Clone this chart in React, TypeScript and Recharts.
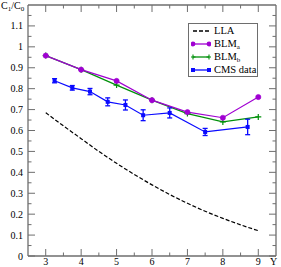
import React from "react";
import {
  ComposedChart,
  ErrorBar,
  Line,
  XAxis,
  YAxis,
} from "recharts";

// values
const llaY = [3, 3.5, 4, 4.5, 5, 5.5, 6, 6.5, 7, 7.5, 8, 8.5, 9];
const llaRatio = [0.685, 0.622, 0.561, 0.5, 0.443, 0.39, 0.34, 0.294, 0.252, 0.214, 0.18, 0.149, 0.121];

const blmY = [3, 4, 5, 6, 7, 8, 9];
const blmARatio = [0.958, 0.891, 0.837, 0.745, 0.688, 0.661, 0.76];
const blmBRatio = [0.958, 0.891, 0.817, 0.745, 0.681, 0.641, 0.665];

const cmsY = [3.25, 3.75, 4.25, 4.75, 5.25, 5.75, 6.5, 7.5, 8.7];
const cmsRatio = [0.838, 0.804, 0.786, 0.737, 0.722, 0.673, 0.684, 0.593, 0.617];
const cmsErr = [0.01, 0.011, 0.015, 0.019, 0.024, 0.026, 0.024, 0.017, 0.037];

const xMajor = [3, 4, 5, 6, 7, 8, 9];
const xMinor = [3.5, 4.5, 5.5, 6.5, 7.5, 8.5];
const yMajor = [0, 0.1, 0.2, 0.3, 0.4, 0.5, 0.6, 0.7, 0.8, 0.9, 1, 1.1];
const yMinor = [0.05, 0.15, 0.25, 0.35, 0.45, 0.55, 0.65, 0.75, 0.85, 0.95, 1.05, 1.15];

const xTicks = [...xMajor, ...xMinor].sort((a, b) => a - b);
const yTicks = [...yMajor, ...yMinor].sort((a, b) => a - b);

const llaData = llaY.map((y, i) => ({ y, v: llaRatio[i] }));
const blmAData = blmY.map((y, i) => ({ y, v: blmARatio[i] }));
const blmBData = blmY.map((y, i) => ({ y, v: blmBRatio[i] }));
const cmsData = cmsY.map((y, i) => ({ y, v: cmsRatio[i], err: cmsErr[i] }));

const FONT = "'Liberation Serif', 'DejaVu Serif', serif";
const FRAME = "#6e6e6e";
const PURPLE = "#a000d2";
const GREEN = "#00900a";
const BLUE = "#0a0aff";
const MAJOR = 7;
const MINOR = 3.5;
const DASH = "4 2";

const isMajor = (v: number, list: number[]) => list.some((m) => Math.abs(m - v) < 1e-9);

function BottomTick({ x, y, payload }: any) {
  const major = isMajor(payload.value, xMajor);
  return (
    <g>
      <line x1={x} x2={x} y1={y} y2={y - (major ? MAJOR : MINOR)} stroke={FRAME} strokeWidth={1} />
      {major && (
        <text x={x} y={y + 9} textAnchor="middle" fontFamily={FONT} fontSize={10} fill="#000">
          {payload.value}
        </text>
      )}
    </g>
  );
}

function TopTick({ x, y, payload }: any) {
  const major = isMajor(payload.value, xMajor);
  return <line x1={x} x2={x} y1={y} y2={y + (major ? MAJOR : MINOR)} stroke={FRAME} strokeWidth={1} />;
}

function LeftTick({ x, y, payload }: any) {
  const major = isMajor(payload.value, yMajor);
  return (
    <g>
      <line x1={x} x2={x + (major ? MAJOR : MINOR)} y1={y} y2={y} stroke={FRAME} strokeWidth={1} />
      {major && (
        <text x={x - 5} y={y + 3.5} textAnchor="end" fontFamily={FONT} fontSize={10} fill="#000">
          {String(payload.value)}
        </text>
      )}
    </g>
  );
}

function RightTick({ x, y, payload }: any) {
  const major = isMajor(payload.value, yMajor);
  return <line x1={x} x2={x - (major ? MAJOR : MINOR)} y1={y} y2={y} stroke={FRAME} strokeWidth={1} />;
}

function CircleDot({ cx, cy }: any) {
  return <circle cx={cx} cy={cy} r={2.6} fill={PURPLE} stroke={PURPLE} strokeWidth={0.6} />;
}

function PlusDot({ cx, cy }: any) {
  return (
    <path d={`M${cx - 3},${cy}H${cx + 3}M${cx},${cy - 3}V${cy + 3}`} stroke={GREEN} strokeWidth={1.2} fill="none" />
  );
}

function SquareDot({ cx, cy }: any) {
  return <rect x={cx - 2} y={cy - 2} width={4} height={4} fill={BLUE} />;
}

function LegendIcon({ kind }: { kind: string }) {
  const color = kind === "lla" ? "#000" : kind === "a" ? PURPLE : kind === "b" ? GREEN : BLUE;
  const ends = [2, 18];
  return (
    <svg width={20} height={10} style={{ display: "block" }}>
      <line
        x1={2}
        x2={18}
        y1={5}
        y2={5}
        stroke={color}
        strokeWidth={1.3}
        strokeDasharray={kind === "lla" ? DASH : undefined}
      />
      {kind === "a" && ends.map((e) => <circle key={e} cx={e} cy={5} r={2.4} fill={PURPLE} />)}
      {kind === "b" &&
        ends.map((e) => (
          <path key={e} d={`M${e - 2.5},5H${e + 2.5}M${e},2.5V7.5`} stroke={GREEN} strokeWidth={1.1} />
        ))}
      {kind === "cms" && ends.map((e) => <rect key={e} x={e - 2} y={3} width={4} height={4} fill={BLUE} />)}
    </svg>
  );
}

const subStyle: React.CSSProperties = { fontSize: 7, verticalAlign: "-2px", lineHeight: 0 };

function LegendBox() {
  const rows: { kind: string; label: React.ReactNode }[] = [
    { kind: "lla", label: "LLA" },
    { kind: "a", label: <>BLM<sub style={subStyle}>a</sub></> },
    { kind: "b", label: <>BLM<sub style={subStyle}>b</sub></> },
    { kind: "cms", label: "CMS data" },
  ];
  return (
    <div
      style={{
        position: "absolute",
        left: 188,
        top: 23,
        boxSizing: "border-box",
        border: `1px solid ${FRAME}`,
        background: "#fff",
        width: 70,
        height: 54,
        fontFamily: FONT,
        fontSize: 10.5,
        color: "#000",
      }}
    >
      {rows.map((r) => (
        <div key={r.kind} style={{ display: "flex", alignItems: "center", height: 13, paddingLeft: 2 }}>
          <LegendIcon kind={r.kind} />
          <span style={{ marginLeft: 3, lineHeight: "13px", whiteSpace: "nowrap" }}>{r.label}</span>
        </div>
      ))}
    </div>
  );
}

const axisLine = { stroke: FRAME, strokeWidth: 1.3 };

export default function App() {
  return (
    <div style={{ position: "relative", width: 281, height: 267 }}>
      <style>{"body{margin:0}"}</style>
      <ComposedChart width={281} height={267} margin={{ top: 4, right: 4, bottom: 0, left: 0 }}>
        <XAxis
          xAxisId="b"
          dataKey="y"
          type="number"
          domain={[2.5, 9.5]}
          ticks={xTicks}
          interval={0}
          height={11}
          tickSize={0}
          tickMargin={0}
          tick={<BottomTick />}
          axisLine={axisLine}
          tickLine={false}
          allowDataOverflow
        />
        <XAxis
          xAxisId="t"
          dataKey="y"
          orientation="top"
          type="number"
          domain={[2.5, 9.5]}
          ticks={xTicks}
          interval={0}
          height={1}
          tickSize={0}
          tickMargin={0}
          tick={<TopTick />}
          axisLine={axisLine}
          tickLine={false}
          allowDataOverflow
        />
        <YAxis
          yAxisId="l"
          type="number"
          domain={[0, 1.2]}
          ticks={yTicks}
          interval={0}
          width={28}
          tickSize={0}
          tickMargin={0}
          tick={<LeftTick />}
          axisLine={axisLine}
          tickLine={false}
          allowDataOverflow
        />
        <YAxis
          yAxisId="r"
          orientation="right"
          type="number"
          domain={[0, 1.2]}
          ticks={yTicks}
          interval={0}
          width={1}
          tickSize={0}
          tickMargin={0}
          tick={<RightTick />}
          axisLine={axisLine}
          tickLine={false}
          allowDataOverflow
        />
        {/* invisible series so the mirrored top/right axes are drawn */}
        <Line
          xAxisId="t"
          yAxisId="r"
          data={blmAData}
          dataKey="v"
          stroke="none"
          dot={false}
          activeDot={false}
          legendType="none"
          isAnimationActive={false}
        />
        <Line
          xAxisId="b"
          yAxisId="l"
          data={llaData}
          dataKey="v"
          name="LLA"
          type="monotone"
          stroke="#000"
          strokeWidth={1.2}
          strokeDasharray={DASH}
          dot={false}
          activeDot={false}
          isAnimationActive={false}
        />
        <Line
          xAxisId="b"
          yAxisId="l"
          data={blmBData}
          dataKey="v"
          name="BLMb"
          stroke={GREEN}
          strokeWidth={1.2}
          dot={<PlusDot />}
          activeDot={false}
          isAnimationActive={false}
        />
        <Line
          xAxisId="b"
          yAxisId="l"
          data={blmAData}
          dataKey="v"
          name="BLMa"
          stroke={PURPLE}
          strokeWidth={1.2}
          dot={<CircleDot />}
          activeDot={false}
          isAnimationActive={false}
        />
        <Line
          xAxisId="b"
          yAxisId="l"
          data={cmsData}
          dataKey="v"
          name="CMS data"
          stroke={BLUE}
          strokeWidth={1.2}
          dot={<SquareDot />}
          activeDot={false}
          isAnimationActive={false}
        >
          <ErrorBar dataKey="err" width={2.5} stroke={BLUE} strokeWidth={1.3} direction="y" />
        </Line>
      </ComposedChart>
      <LegendBox />
      <div
        style={{
          position: "absolute",
          left: 1,
          top: 0,
          fontFamily: FONT,
          fontSize: 10,
          lineHeight: "11px",
          color: "#000",
          whiteSpace: "nowrap",
        }}
      >
        C<sub style={subStyle}>1</sub>/C<sub style={subStyle}>0</sub>
      </div>
      <div
        style={{
          position: "absolute",
          left: 270,
          top: 256,
          fontFamily: FONT,
          fontSize: 10,
          color: "#000",
        }}
      >
        Y
      </div>
    </div>
  );
}
